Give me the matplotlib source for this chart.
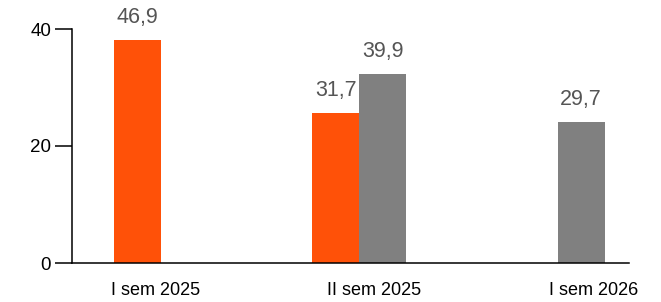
import matplotlib
matplotlib.use("Agg")
import matplotlib.pyplot as plt
import numpy as np

plt.rcParams['font.family'] = ['Liberation Sans', 'DejaVu Sans']

categories = ["I sem 2025", "II sem 2025", "I sem 2026"]
# bar heights as read against the y axis, and the value labels printed above them
orange_heights = [38.1, 25.6, None]
gray_heights = [None, 32.3, 24.1]
orange_labels = ["46,9", "31,7", None]
gray_labels = [None, "39,9", "29,7"]

ORANGE = "#FF5108"
GRAY = "#808080"

fig = plt.figure(figsize=(6.61, 3.02), dpi=100)
ax = fig.add_axes([72 / 661, 39 / 302, 557 / 661, 234 / 302])

x = np.arange(len(categories))
w = 0.237

for i in range(len(categories)):
    if orange_heights[i] is not None:
        ax.bar(x[i] - w / 2, orange_heights[i], w, color=ORANGE)
        ax.text(x[i] - w / 2, orange_heights[i] + 2.1, orange_labels[i],
                ha="center", va="bottom", fontsize=15.5, color="#555555")
    if gray_heights[i] is not None:
        ax.bar(x[i] + w / 2, gray_heights[i], w, color=GRAY)
        ax.text(x[i] + w / 2, gray_heights[i] + 2.1, gray_labels[i],
                ha="center", va="bottom", fontsize=15.5, color="#555555")

ax.set_xlim(-0.45, 2.36)
ax.set_ylim(0, 40)
ax.set_yticks([0, 20, 40])
ax.tick_params(axis="y", length=12, width=1.1, pad=3, labelsize=13.5)

# category labels sit a little off the group centres in the original
ax.set_xticks(x * 1.105 - 0.03)
ax.set_xticklabels(categories)
ax.tick_params(axis="x", length=0, pad=14, labelsize=13)

for s in ["top", "right"]:
    ax.spines[s].set_visible(False)
ax.spines["left"].set_linewidth(1.1)
ax.spines["bottom"].set_linewidth(1.1)

fig.savefig("out.png", dpi=100)
